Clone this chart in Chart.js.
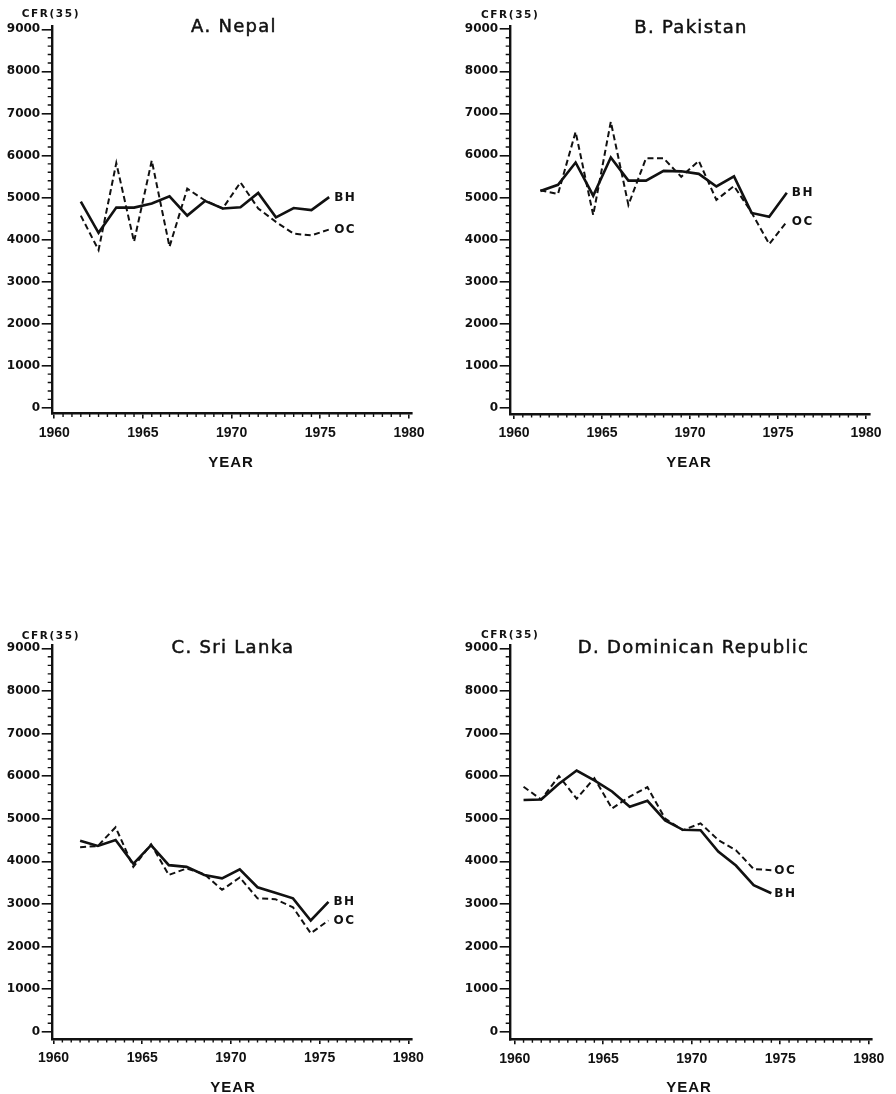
<!DOCTYPE html>
<html>
<head>
<meta charset="utf-8">
<script src="https://cdn.jsdelivr.net/npm/chart.js@4.4.1/dist/chart.umd.min.js"></script>
<style>
  html, body { margin: 0; padding: 0; background: #fff; }
  #wrap { position: relative; width: 896px; height: 1094px; overflow: hidden; background: #fff; }
  #wrap canvas { position: absolute; left: 0; top: 0; }
  .txt { position: absolute; white-space: nowrap; color: #111; }
  .title { font: 18px "DejaVu Sans"; letter-spacing: 1.3px; line-height: 18px; transform: translateX(-50%); -webkit-text-stroke: 0.5px #111; }
  .cfr { font: bold 10.5px "DejaVu Sans"; letter-spacing: 1.6px; line-height: 10px; }
  .year { font: bold 15px "Liberation Sans"; letter-spacing: 1px; line-height: 15px; transform: translateX(-50%); }
</style>
</head>
<body>
<div id="wrap"></div>
<script>
// Axis ticks
const yTickValues = [0, 1000, 2000, 3000, 4000, 5000, 6000, 7000, 8000, 9000];
const xTickValues = [1960, 1965, 1970, 1975, 1980];
const yAxisLabel = 'CFR(35)';
const xAxisLabel = 'YEAR';

// Mid-year positions of the annual estimates
const yearsSouthAsia = [1961.5, 1962.5, 1963.5, 1964.5, 1965.5, 1966.5, 1967.5, 1968.5,
                        1969.5, 1970.5, 1971.5, 1972.5, 1973.5, 1974.5, 1975.5];
const yearsDominican = [1960.5, 1961.5, 1962.5, 1963.5, 1964.5, 1965.5, 1966.5, 1967.5,
                        1968.5, 1969.5, 1970.5, 1971.5, 1972.5, 1973.5, 1974.5];

// Cumulative fertility to age 35: birth history (BH) and own-children (OC) estimates
const nepalBH = [4900, 4160, 4760, 4760, 4860, 5030, 4570, 4920, 4740, 4770, 5110, 4530, 4750, 4700, 5010];
const nepalOC = [4570, 3750, 5820, 3950, 5880, 3830, 5210, 4930, 4740, 5360, 4740, 4420, 4140, 4100, 4240];

const pakistanBH = [5150, 5300, 5830, 5040, 5950, 5400, 5400, 5630, 5620, 5560, 5260, 5500, 4630, 4540, 5110];
const pakistanOC = [5170, 5080, 6560, 4580, 6800, 4820, 5930, 5930, 5490, 5870, 4940, 5270, 4640, 3890, 4420];

const sriLankaBH = [4480, 4360, 4500, 3940, 4380, 3910, 3870, 3680, 3600, 3810, 3390, 3260, 3130, 2610, 3050];
const sriLankaOC = [4330, 4360, 4800, 3870, 4400, 3680, 3830, 3700, 3330, 3620, 3130, 3110, 2920, 2310, 2610];

const dominicanBH = [5440, 5450, 5820, 6130, 5900, 5640, 5280, 5420, 4960, 4740, 4730, 4230, 3900, 3440, 3250];
const dominicanOC = [5750, 5450, 6000, 5470, 5950, 5240, 5520, 5740, 5000, 4730, 4890, 4500, 4260, 3820, 3790];

// Page layout of the four panels (pixel geometry)
const panels = [
  { title: 'A. Nepal', years: yearsSouthAsia, bh: nepalBH, oc: nepalOC,
    L: 51.7, x1960: 54.2, ppy: 17.74, T: 26.5, y9000: 29.3, y0: 407.8, B: 413.5, R: 412,
    titleX: 234, titleTop: 17.3, cfrX: 21.7, cfrTop: 8.2, yearX: 231, yearTop: 453.8, dx: 5 },
  { title: 'B. Pakistan', years: yearsSouthAsia, bh: pakistanBH, oc: pakistanOC,
    L: 509.7, x1960: 514, ppy: 17.6, T: 26.5, y9000: 29.3, y0: 407.5, B: 414, R: 870,
    titleX: 691, titleTop: 17.8, cfrX: 481, cfrTop: 9, yearX: 689, yearTop: 453.8, dx: 5 },
  { title: 'C. Sri Lanka', years: yearsSouthAsia, bh: sriLankaBH, oc: sriLankaOC,
    L: 51.7, x1960: 53.5, ppy: 17.74, T: 645.5, y9000: 648.3, y0: 1031.7, B: 1039, R: 412,
    titleX: 233, titleTop: 637.8, cfrX: 21.7, cfrTop: 629.5, yearX: 233, yearTop: 1078.8, dx: 5 },
  { title: 'D. Dominican Republic', years: yearsDominican, bh: dominicanBH, oc: dominicanOC,
    L: 509.7, x1960: 514.7, ppy: 17.7, T: 645.5, y9000: 648.3, y0: 1031.7, B: 1039.3, R: 872,
    titleX: 693.5, titleTop: 637.8, cfrX: 481, cfrTop: 628.5, yearX: 689, yearTop: 1078.8, dx: 3 }
];

const INK = '#111';
const Y_AXIS_W = 50;
const X_AXIS_H = 30;

// Short minor tick marks along both axes
const minorTicks = {
  id: 'minorTicks',
  afterDraw(chart) {
    const { ctx, chartArea: a, scales: { x, y } } = chart;
    ctx.save();
    ctx.strokeStyle = INK;
    ctx.lineWidth = 1.4;
    ctx.beginPath();
    for (let v = 200; v < 9000; v += 200) {
      if (v % 1000 === 0) continue;
      const py = y.getPixelForValue(v);
      ctx.moveTo(a.left - 4, py);
      ctx.lineTo(a.left, py);
    }
    for (let t = 1960.5; t < 1980; t += 0.5) {
      if (t % 5 === 0) continue;
      const px = x.getPixelForValue(t);
      ctx.moveTo(px, a.bottom);
      ctx.lineTo(px, a.bottom + 3.5);
    }
    ctx.stroke();
    ctx.restore();
  }
};

// Series names written just past the final point of each line
const endLabels = {
  id: 'endLabels',
  afterDatasetsDraw(chart, args, opts) {
    const { ctx } = chart;
    ctx.save();
    ctx.font = 'bold 12px "DejaVu Sans"';
    if ('letterSpacing' in ctx) ctx.letterSpacing = '1.5px';
    ctx.textBaseline = 'middle';
    ctx.textAlign = 'left';
    ctx.fillStyle = INK;
    chart.data.datasets.forEach((ds, i) => {
      const pts = chart.getDatasetMeta(i).data;
      const last = pts[pts.length - 1];
      ctx.fillText(ds.label, last.x + opts.dx, last.y + 0.5);
    });
    ctx.restore();
  }
};

const wrap = document.getElementById('wrap');

function addText(cls, text, left, top) {
  const d = document.createElement('div');
  d.className = 'txt ' + cls;
  d.textContent = text;
  d.style.left = left + 'px';
  d.style.top = top + 'px';
  wrap.appendChild(d);
}

panels.forEach(p => {
  const canvas = document.createElement('canvas');
  canvas.width = 896;
  canvas.height = 1094;
  wrap.appendChild(canvas);

  const pxPerUnit = (p.y0 - p.y9000) / 9000;
  const xMin = 1960 - (p.x1960 - p.L) / p.ppy;
  const xMax = 1960 + (p.R - p.x1960) / p.ppy;
  const yMax = 9000 + (p.y9000 - p.T) / pxPerUnit;
  const yMin = -(p.B - p.y0) / pxPerUnit;

  new Chart(canvas, {
    type: 'line',
    data: {
      datasets: [
        { label: 'BH', data: p.years.map((x, i) => ({ x, y: p.bh[i] })),
          borderColor: INK, borderWidth: 2.6, pointRadius: 0, tension: 0, fill: false },
        { label: 'OC', data: p.years.map((x, i) => ({ x, y: p.oc[i] })),
          borderColor: INK, borderWidth: 2.0, borderDash: [6, 3.5], pointRadius: 0, tension: 0, fill: false }
      ]
    },
    options: {
      responsive: false,
      animation: false,
      events: [],
      layout: { padding: { left: p.L - Y_AXIS_W, right: 896 - p.R, top: p.T, bottom: 1094 - p.B - X_AXIS_H } },
      plugins: { legend: { display: false }, tooltip: { enabled: false }, endLabels: { dx: p.dx } },
      scales: {
        x: {
          type: 'linear', min: xMin, max: xMax,
          afterFit: s => { s.height = X_AXIS_H; },
          afterBuildTicks: s => { s.ticks = xTickValues.map(v => ({ value: v })); },
          grid: { drawOnChartArea: false, drawTicks: true, tickLength: 5, color: INK, lineWidth: 1.6 },
          border: { display: true, color: INK, width: 2.4 },
          ticks: { color: INK, font: { family: 'Liberation Sans', size: 14, weight: 'bold' },
                   padding: 6, maxRotation: 0, autoSkip: false, callback: v => String(v) }
        },
        y: {
          type: 'linear', min: yMin, max: yMax,
          afterFit: s => { s.width = Y_AXIS_W; },
          afterBuildTicks: s => { s.ticks = yTickValues.map(v => ({ value: v })); },
          grid: { drawOnChartArea: false, drawTicks: true, tickLength: 10, color: INK, lineWidth: 1.6 },
          border: { display: true, color: INK, width: 2.4 },
          ticks: { color: INK, font: { family: 'DejaVu Sans', size: 12, weight: 'bold' },
                   padding: 1.5, autoSkip: false, callback: v => String(v) }
        }
      }
    },
    plugins: [minorTicks, endLabels]
  });

  addText('title', p.title, p.titleX, p.titleTop);
  addText('cfr', yAxisLabel, p.cfrX, p.cfrTop);
  addText('year', xAxisLabel, p.yearX, p.yearTop);
});
</script>
</body>
</html>
